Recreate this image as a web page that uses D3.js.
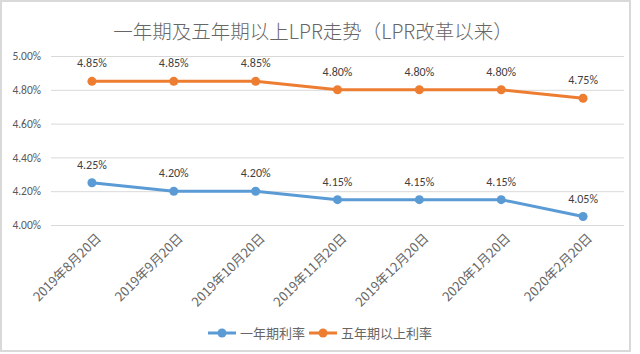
<!DOCTYPE html>
<html>
<head>
<meta charset="utf-8">
<script src="https://cdn.jsdelivr.net/npm/d3@7"></script>
<style>
  body { margin: 0; background: #fff; }
  text { font-family: "Noto Sans CJK SC", "Noto Sans", sans-serif; }
</style>
</head>
<body>
<div id="chart"></div>
<script>
const dates = ['2019年8月20日', '2019年9月20日', '2019年10月20日', '2019年11月20日',
               '2019年12月20日', '2020年1月20日', '2020年2月20日'];
const oneYear = [4.25, 4.20, 4.20, 4.15, 4.15, 4.15, 4.05];
const fiveYear = [4.85, 4.85, 4.85, 4.80, 4.80, 4.80, 4.75];
const yTicks = [4.00, 4.20, 4.40, 4.60, 4.80, 5.00];
const seriesNames = ['一年期利率', '五年期以上利率'];
const colors = ['#5b9bd5', '#ed7d31'];

const W = 640, H = 354;
const margin = {top: 56, right: 16, bottom: 129, left: 51};
const width = 624 - margin.left, height = 225 - margin.top;

const svg = d3.select('#chart').append('svg')
    .attr('width', W).attr('height', H);

// outer frame
svg.append('rect')
    .attr('x', 1).attr('y', 1).attr('width', 629).attr('height', 350)
    .attr('fill', '#fff').attr('stroke', '#d9d9d9').attr('stroke-width', 2);

// title
svg.append('text')
    .attr('x', 313).attr('y', 39)
    .attr('text-anchor', 'middle')
    .attr('font-size', 19.5)
    .attr('font-weight', 300)
    .attr('fill', '#666')
    .text('一年期及五年期以上LPR走势（LPR改革以来）');

const g = svg.append('g')
    .attr('transform', `translate(${margin.left},${margin.top})`);

const x = d3.scaleBand().domain(dates).range([0, width]);
const y = d3.scaleLinear().domain([4.0, 5.0]).range([height, 0]);

// y axis with gridlines
const yAxis = g.append('g')
    .call(d3.axisLeft(y).tickValues(yTicks).tickSize(-width).tickPadding(10)
        .tickFormat(d => d.toFixed(2) + '%'));
yAxis.select('.domain').remove();
yAxis.selectAll('line').attr('stroke', '#d9d9d9');
yAxis.selectAll('text')
    .attr('fill', '#595959').attr('font-size', 11.5)
    .style('font-family', 'Calibri, Carlito, "Liberation Sans", sans-serif');

// x axis labels
const xAxis = g.append('g')
    .attr('transform', `translate(0,${height})`)
    .call(d3.axisBottom(x).tickSize(0).tickPadding(0));
xAxis.select('.domain').remove();
xAxis.selectAll('text')
    .attr('fill', '#666').attr('font-size', 13)
    .attr('text-anchor', 'end')
    .attr('dy', 0).attr('y', 0)
    .attr('transform', 'translate(10,14) rotate(-45)');

const line = d3.line()
    .x((d, i) => x(dates[i]) + x.bandwidth() / 2)
    .y(d => y(d));

[oneYear, fiveYear].forEach((vals, si) => {
  g.append('path')
      .datum(vals)
      .attr('fill', 'none')
      .attr('stroke', colors[si])
      .attr('stroke-width', 3)
      .attr('d', line);

  g.selectAll('.pt' + si)
      .data(vals)
      .join('circle')
      .attr('cx', (d, i) => x(dates[i]) + x.bandwidth() / 2)
      .attr('cy', d => y(d))
      .attr('r', 4.5)
      .attr('fill', colors[si]);

  g.selectAll('.lb' + si)
      .data(vals)
      .join('text')
      .attr('x', (d, i) => x(dates[i]) + x.bandwidth() / 2)
      .attr('y', d => y(d) - 14)
      .attr('text-anchor', 'middle')
      .attr('font-size', 12)
      .attr('fill', '#404040')
      .style('font-family', 'Calibri, Carlito, "Liberation Sans", sans-serif')
      .text(d => d.toFixed(2) + '%');
});

// legend
const legend = svg.append('g').attr('transform', 'translate(208,333)');
let lx = 0;
seriesNames.forEach((name, i) => {
  const item = legend.append('g').attr('transform', `translate(${lx},0)`);
  item.append('line')
      .attr('x1', 0).attr('x2', 28).attr('y1', 0).attr('y2', 0)
      .attr('stroke', colors[i]).attr('stroke-width', 3);
  item.append('circle')
      .attr('cx', 14).attr('cy', 0).attr('r', 4.5).attr('fill', colors[i]);
  const t = item.append('text')
      .attr('x', 32).attr('y', 4.5)
      .attr('font-size', 13)
      .attr('fill', '#666')
      .text(name);
  lx += 32 + t.node().getComputedTextLength() + 4;
});
</script>
</body>
</html>
